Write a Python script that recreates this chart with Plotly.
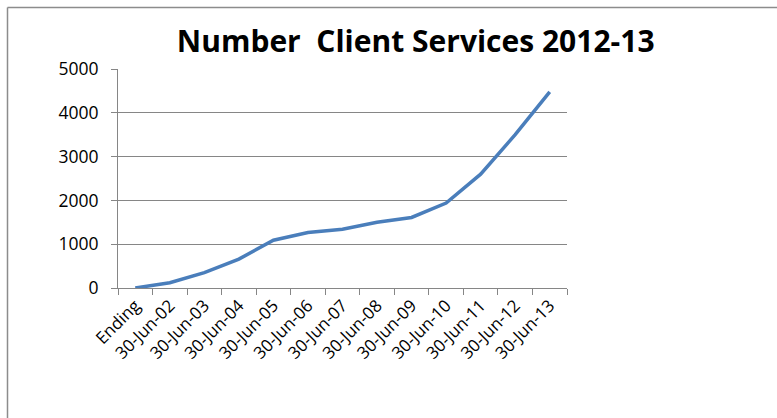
import plotly.graph_objects as go

categories = ["Ending", "30-Jun-02", "30-Jun-03", "30-Jun-04", "30-Jun-05", "30-Jun-06",
              "30-Jun-07", "30-Jun-08", "30-Jun-09", "30-Jun-10", "30-Jun-11", "30-Jun-12", "30-Jun-13"]
services = [0, 120, 350, 660, 1090, 1265, 1340, 1500, 1610, 1940, 2600, 3500, 4480]
y_ticks = [0, 1000, 2000, 3000, 4000, 5000]

W, H = 777, 418
L, R, T, B = 118, 567, 69, 288

fig = go.Figure(go.Scatter(
    x=categories, y=services, mode="lines",
    line=dict(color="#4A7EBB", width=3.5), hoverinfo="x+y"))

font = "Open Sans, Liberation Sans, sans-serif"
fig.update_layout(
    width=W, height=H,
    margin=dict(l=L, r=W - R, t=T, b=H - B, pad=0),
    paper_bgcolor="white", plot_bgcolor="white",
    showlegend=False,
    title=dict(text="<b>Number\u00a0 Client Services 2012-13</b>", x=0.535, xref="container",
               xanchor="center", y=1 - 41 / H, yanchor="middle",
               font=dict(family=font, size=30, color="black")),
    xaxis=dict(type="category", range=[-0.5, len(categories) - 0.5],
               tickson="boundaries", ticks="outside", ticklen=6, tickcolor="#868686",
               showline=True, linecolor="#868686", linewidth=1, showgrid=False,
               tickangle=-45, tickfont=dict(family=font, size=17, color="black")),
    yaxis=dict(range=[0, 5000], tickvals=y_ticks, ticks="outside", ticklen=6,
               tickcolor="#868686", showline=True, linecolor="#868686", linewidth=1,
               showgrid=True, gridcolor="#868686", gridwidth=1, zeroline=False,
               ticklabelstandoff=9,
               tickfont=dict(family=font, size=17.5, color="black")),
)

def px_x(p):
    return (p - L) / (R - L)

def px_y(p):
    return (B - p) / (B - T)

frame = dict(type="line", xref="paper", yref="paper", line=dict(color="#8C8C8C", width=1.5))
fig.add_shape(**frame, x0=px_x(7.5), x1=px_x(W), y0=px_y(7.5), y1=px_y(7.5))
fig.add_shape(**frame, x0=px_x(7.5), x1=px_x(7.5), y0=px_y(7.5), y1=px_y(H))

fig.write_html("out.html")
